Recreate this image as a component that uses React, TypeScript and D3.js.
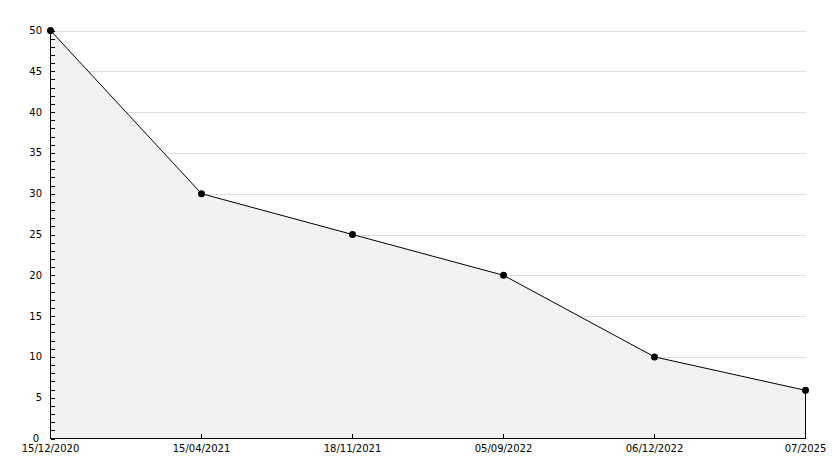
import React from "react";
import * as d3 from "d3";

const categories = ["15/12/2020", "15/04/2021", "18/11/2021", "05/09/2022", "06/12/2022", "07/2025"];
const values = [50, 30, 25, 20, 10, 5.9];
const yMajorTicks = [0, 5, 10, 15, 20, 25, 30, 35, 40, 45, 50];

const W = 834;
const H = 468;
const left = 50.5;
const right = 805.5;
const top = 30.5;
const bottom = 438.5;

export default function App() {
  const x = d3.scalePoint<string>().domain(categories).range([left, right]);
  const y = d3.scaleLinear().domain([0, 50]).range([bottom, top]);
  const pts: [number, number][] = categories.map((c, i) => [x(c)!, y(values[i])]);
  const line = d3.line<[number, number]>().x(d => d[0]).y(d => d[1]);
  const area = d3.area<[number, number]>().x(d => d[0]).y0(bottom).y1(d => d[1]);
  const minor = d3.range(0, 51, 1);
  const font = "DejaVu Sans, sans-serif";
  return (
    <svg width={W} height={H} style={{ position: "absolute", left: 0, top: 0, background: "#fff" }} shapeRendering="crispEdges">
      {yMajorTicks.filter(v => v > 0).map(v => (
        <line key={"g" + v} x1={left} x2={right} y1={Math.round(y(v))} y2={Math.round(y(v))} stroke="#dddddd" strokeWidth={1} />
      ))}
      <path d={area(pts)!} fill="#f2f2f2" stroke="none" />
      <line x1={right} x2={right} y1={y(values[values.length - 1])} y2={bottom} stroke="#000" />
      <path d={line(pts)!} fill="none" stroke="#000" strokeWidth={1} shapeRendering="auto" />
      <line x1={left} x2={left} y1={top} y2={bottom} stroke="#000" />
      <line x1={left} x2={right} y1={bottom} y2={bottom} stroke="#000" />
      {minor.map(v => (
        <line key={"t" + v} x1={left} x2={left + 4} y1={Math.round(y(v)) + 0.5} y2={Math.round(y(v)) + 0.5} stroke="#000" />
      ))}
      {categories.map(c => (
        <line key={"xt" + c} x1={x(c)!} x2={x(c)!} y1={bottom - 5} y2={bottom} stroke="#000" />
      ))}
      {pts.map((p, i) => (
        <circle key={"p" + i} cx={p[0]} cy={p[1]} r={3.5} fill="#000" shapeRendering="auto" />
      ))}
      {yMajorTicks.map(v => (
        <text key={"yl" + v} x={v === 0 ? 39 : 42} y={y(v)} dy="0.35em" textAnchor="end" fontFamily={font} fontSize={10} fill="#000">{v}</text>
      ))}
      {categories.map(c => (
        <text key={"xl" + c} x={x(c)!} y={452} textAnchor="middle" fontFamily={font} fontSize={10} fill="#000">{c}</text>
      ))}
    </svg>
  );
}
